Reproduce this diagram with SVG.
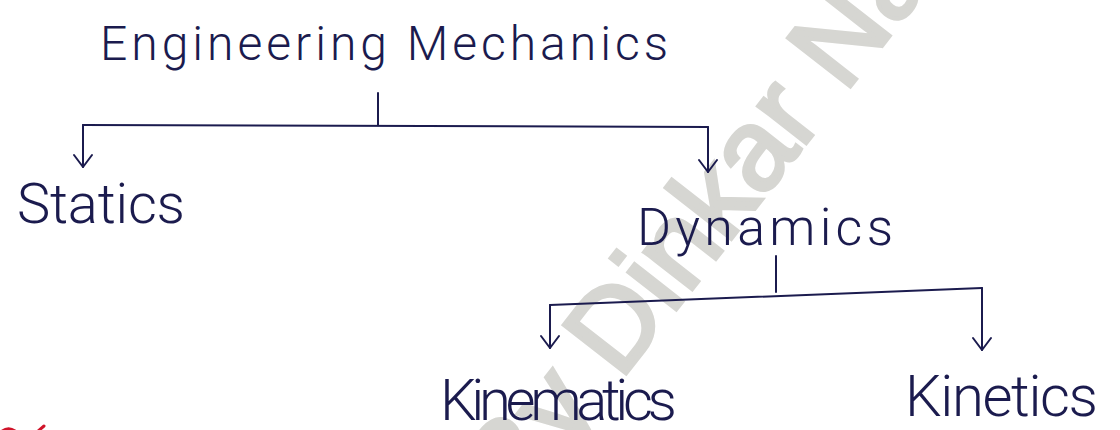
<svg xmlns="http://www.w3.org/2000/svg" width="1120" height="430" viewBox="0 0 1120 430">
  <style>
    .ink { font-family: Roboto, Inter, "Open Sans", "Liberation Sans", sans-serif; font-weight: 300; fill: #1b1b4e; }
    .line { stroke: #1b1b4e; stroke-width: 2; fill: none; stroke-linecap: round; }
    .wm { font-family: "Liberation Sans", Arial, sans-serif; font-size: 115px; fill: #d6d6d2; stroke: #d6d6d2; stroke-width: 4; }
  </style>
  <defs>
    <marker id="arrow" markerUnits="userSpaceOnUse" markerWidth="30" markerHeight="30" refX="0" refY="0" viewBox="-15 -15 30 30" orient="auto" overflow="visible">
      <path d="M-12,-9 L0,0 L-12,9" fill="none" stroke="#1b1b4e" stroke-width="2" stroke-linecap="round" stroke-linejoin="round"/>
    </marker>
  </defs>
  <rect width="1120" height="430" fill="#ffffff"/>

  <g id="watermark">
    <text class="wm" transform="translate(518,512) rotate(-52)">By Dinkar Nath</text>
  </g>

  <g id="engineering-mechanics">
    <text class="ink" x="100" y="60" font-size="48" textLength="568" lengthAdjust="spacing">Engineering Mechanics</text>
  </g>
  <g id="statics">
    <text class="ink" x="17" y="223" font-size="56" textLength="168" lengthAdjust="spacing">Statics</text>
  </g>
  <g id="dynamics">
    <text class="ink" x="637" y="245" font-size="52" textLength="256" lengthAdjust="spacing">Dynamics</text>
  </g>
  <g id="kinematics">
    <text class="ink" x="440" y="420" font-size="58" textLength="237" lengthAdjust="spacing">Kinematics</text>
  </g>
  <g id="kinetics">
    <text class="ink" x="905" y="416" font-size="58" textLength="193" lengthAdjust="spacing">Kinetics</text>
  </g>

  <g id="connectors">
    <path class="line" d="M378,93 L378,125"/>
    <path class="line" d="M83,125 L708,127"/>
    <path class="line" d="M83,125 L83,167" marker-end="url(#arrow)"/>
    <path class="line" d="M708,127 L708,172" marker-end="url(#arrow)"/>
    <path class="line" d="M776,256 L776,292"/>
    <path class="line" d="M550,305 L982,288"/>
    <path class="line" d="M550,305 L550,348" marker-end="url(#arrow)"/>
    <path class="line" d="M982,288 L982,350" marker-end="url(#arrow)"/>
  </g>

  <g id="red-mark" fill="none" stroke="#d0142a" stroke-width="3" stroke-linecap="round">
    <path d="M1,432 Q8,426 15,431"/>
    <path d="M37,432 L44,426"/>
  </g>
</svg>
